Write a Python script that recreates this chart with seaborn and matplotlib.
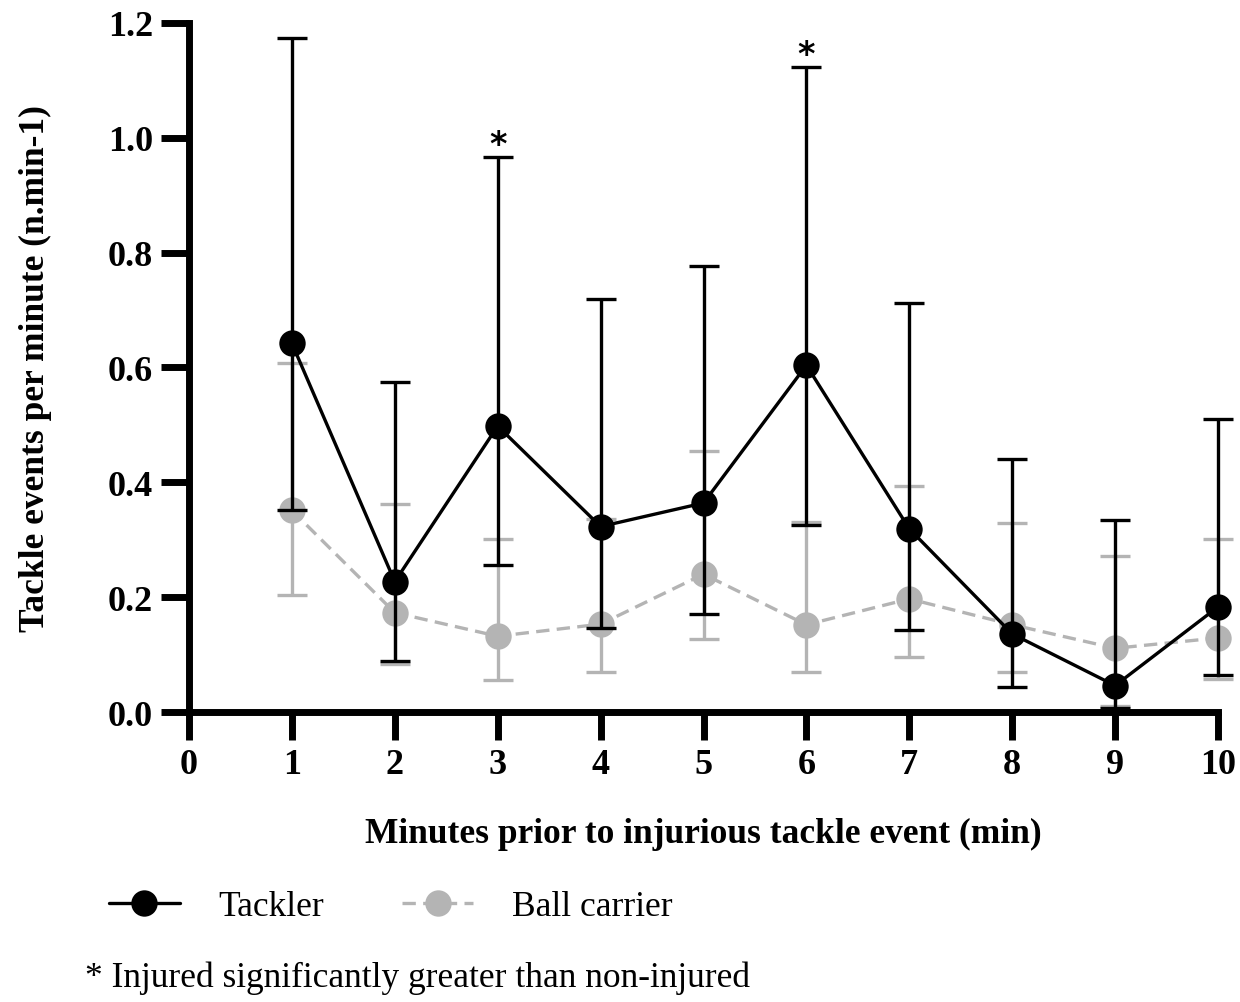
import numpy as np
import pandas as pd
import seaborn as sns
import matplotlib
matplotlib.use("Agg")
import matplotlib.pyplot as plt
from matplotlib.lines import Line2D

minutes = [1, 2, 3, 4, 5, 6, 7, 8, 9, 10]
tackler_mean = [0.642, 0.227, 0.498, 0.323, 0.364, 0.604, 0.319, 0.136, 0.046, 0.183]
tackler_upper = [1.174, 0.574, 0.967, 0.719, 0.776, 1.124, 0.712, 0.441, 0.334, 0.511]
tackler_lower = [0.351, 0.088, 0.256, 0.146, 0.171, 0.325, 0.143, 0.044, 0.007, 0.065]
carrier_mean = [0.351, 0.173, 0.132, 0.153, 0.240, 0.152, 0.197, 0.152, 0.111, 0.129]
carrier_upper = [0.607, 0.363, 0.302, 0.336, 0.454, 0.331, 0.393, 0.330, 0.272, 0.302]
carrier_lower = [0.204, 0.084, 0.056, 0.070, 0.127, 0.070, 0.096, 0.070, 0.010, 0.058]
significant = [3, 6]
x_ticks = [0, 1, 2, 3, 4, 5, 6, 7, 8, 9, 10]
y_ticks = [0.0, 0.2, 0.4, 0.6, 0.8, 1.0, 1.2]

sns.set_style("ticks")
plt.rcParams['font.family'] = ['Liberation Serif', 'DejaVu Serif']
plt.rcParams['text.color'] = 'black'
plt.rcParams['axes.labelcolor'] = 'black'
plt.rcParams['xtick.color'] = 'black'
plt.rcParams['ytick.color'] = 'black'

BLACK = "#000000"
GRAY = "#b4b4b4"

df = pd.DataFrame({
    "minute": minutes * 2,
    "value": tackler_mean + carrier_mean,
    "group": ["Tackler"] * len(minutes) + ["Ball carrier"] * len(minutes),
})

fig = plt.figure(figsize=(12.4, 10.03), dpi=100)
ax = fig.add_axes([189 / 1240, 1 - 713 / 1003, (1218 - 189) / 1240, (713 - 24) / 1003])

# error bars (ball carrier behind)
ax.errorbar(minutes, carrier_mean,
            yerr=[np.array(carrier_mean) - np.array(carrier_lower),
                  np.array(carrier_upper) - np.array(carrier_mean)],
            fmt="none", ecolor=GRAY, elinewidth=2.4, capsize=11, capthick=2.4,
            zorder=2, clip_on=False)
sns.lineplot(data=df[df.group == "Ball carrier"], x="minute", y="value", ax=ax,
             color=GRAY, linewidth=2.4, marker="o", markersize=19,
             markeredgewidth=0, legend=False, zorder=3, clip_on=False)
ax.lines[-1].set_dashes((4, 2.2))

ax.errorbar(minutes, tackler_mean,
            yerr=[np.array(tackler_mean) - np.array(tackler_lower),
                  np.array(tackler_upper) - np.array(tackler_mean)],
            fmt="none", ecolor=BLACK, elinewidth=2.4, capsize=11, capthick=2.4,
            zorder=4, clip_on=False)
sns.lineplot(data=df[df.group == "Tackler"], x="minute", y="value", ax=ax,
             color=BLACK, linewidth=2.4, marker="o", markersize=19,
             markeredgewidth=0, legend=False, zorder=5, clip_on=False)

for m in significant:
    i = minutes.index(m)
    ax.text(m, tackler_upper[i] + 0.004, "*", ha="center", va="baseline",
            fontsize=24, family="DejaVu Sans", fontweight="bold", color=BLACK)

ax.set_xlim(0, 10)
ax.set_ylim(0, 1.2)
ax.set_xticks(x_ticks)
ax.set_yticks(y_ticks)
ax.set_yticklabels([f"{v:.1f}" for v in y_ticks])
for lab in ax.get_xticklabels() + ax.get_yticklabels():
    lab.set_fontweight("bold")
    lab.set_fontsize(26)
    lab.set_color(BLACK)
ax.tick_params(axis="both", width=5, length=20, color=BLACK, pad=6)
for s in ["left", "bottom"]:
    ax.spines[s].set_linewidth(5)
    ax.spines[s].set_color(BLACK)
sns.despine(ax=ax)

ax.set_xlabel("Minutes prior to injurious tackle event (min)", fontsize=25.5,
              fontweight="bold", labelpad=26, color=BLACK)
ax.set_ylabel("Tackle events per minute (n.min-1)", fontsize=25.5,
              fontweight="bold", labelpad=40, color=BLACK)

handles = [
    Line2D([], [], color=BLACK, linewidth=2.4, marker="o", markersize=19,
           markeredgewidth=0),
    Line2D([], [], color=GRAY, linewidth=2.4, linestyle=(0, (4, 2.2)),
           marker="o", markersize=19, markeredgewidth=0),
]
fig.legend(handles, ["Tackler", "Ball carrier"], loc="center left",
           bbox_to_anchor=(0.062, 1 - 908 / 1003), ncol=2, frameon=False,
           fontsize=25.5, handlelength=2.0, columnspacing=2.2, handletextpad=1.1)

fig.text(85 / 1240, 1 - 978 / 1003, "* Injured significantly greater than non-injured",
         fontsize=25.5, va="center", ha="left", color=BLACK)

fig.savefig("out.png", dpi=100, facecolor="white")
